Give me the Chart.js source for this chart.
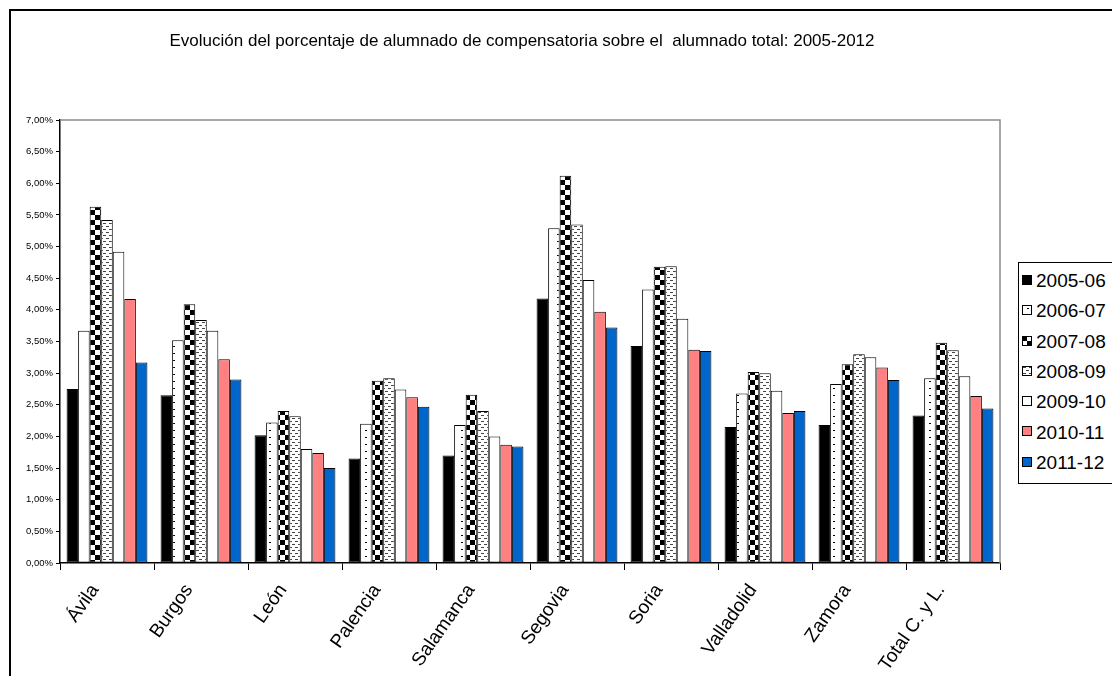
<!DOCTYPE html>
<html>
<head>
<meta charset="utf-8">
<script src="https://cdn.jsdelivr.net/npm/chart.js@4"></script>
<style>
  body { margin: 0; background: #fff; overflow: hidden; font-family: Arial, "Liberation Sans", sans-serif; }
  #wrap { position: relative; width: 1112px; height: 676px; overflow: hidden; }
  #frame { position: absolute; left: 9px; top: 9px; width: 1200px; height: 800px; border: 2px solid #000; }
  #chartBox { position: absolute; left: 0; top: 0; width: 1040px; height: 676px; }
  #legend { position: absolute; left: 1018px; top: 262px; width: 120px; height: 220px; border: 1px solid #000; background: #fff; }
  .item { position: absolute; left: 3px; height: 22px; line-height: 22px; font-size: 19px; color: #000; white-space: nowrap; }
  .item canvas { vertical-align: middle; margin-right: 4px; position: relative; top: -2px; }
</style>
</head>
<body>
<div id="wrap">
  <div id="frame"></div>
  <div id="chartBox"><canvas id="myBarChart" width="1040" height="676"></canvas></div>
  <div id="legend"></div>
</div>
<script>
const categories = ['Ávila', 'Burgos', 'León', 'Palencia', 'Salamanca', 'Segovia', 'Soria', 'Valladolid', 'Zamora', 'Total C. y L.'];
const seriesLabels = ['2005-06', '2006-07', '2007-08', '2008-09', '2009-10', '2010-11', '2011-12'];

// percentages
const s0506 = [2.75, 2.65, 2.02, 1.65, 1.70, 4.18, 3.43, 2.15, 2.18, 2.33];
const s0607 = [3.67, 3.52, 2.22, 2.20, 2.18, 5.29, 4.32, 2.68, 2.83, 2.92];
const s0708 = [5.63, 4.09, 2.40, 2.88, 2.66, 6.12, 4.68, 3.02, 3.14, 3.48];
const s0809 = [5.42, 3.84, 2.32, 2.92, 2.40, 5.35, 4.69, 3.00, 3.30, 3.36];
const s0910 = [4.92, 3.67, 1.80, 2.74, 2.00, 4.47, 3.86, 2.72, 3.25, 2.95];
const s1011 = [4.17, 3.22, 1.74, 2.62, 1.87, 3.97, 3.37, 2.37, 3.09, 2.64];
const s1112 = [3.17, 2.90, 1.50, 2.47, 1.84, 3.72, 3.35, 2.40, 2.89, 2.44];
const seriesValues = [s0506, s0607, s0708, s0809, s0910, s1011, s1112];

const yMin = 0;
const yMax = 7;
const yStep = 0.5;

const titleText = 'Evolución del porcentaje de alumnado de compensatoria sobre el  alumnado total: 2005-2012';

const ctx = document.getElementById('myBarChart').getContext('2d');

// small tiles for the hatched fills
function tile(w, h, draw) {
     const c = document.createElement('canvas');
     c.width = w; c.height = h;
     const g = c.getContext('2d');
     g.fillStyle = '#fff';
     g.fillRect(0, 0, w, h);
     g.fillStyle = '#000';
     draw(g);
     return c;
}
const tiles = [
     null,
     tile(12, 7, g => { g.fillRect(5, 3, 2, 1); }), // sparse dots
     tile(10, 10, g => { g.fillRect(0, 0, 5, 5); g.fillRect(5, 5, 5, 5); }), // checker
     tile(6, 6, g => { g.fillStyle = '#444'; g.fillRect(1, 1, 3, 1); g.fillRect(4, 4, 2, 1); g.fillRect(0, 4, 1, 1); }), // dashes
     null, null, null
];
const plainColors = ['#000000', null, null, null, '#ffffff', '#ff8080', '#0066cc'];
const fills = tiles.map((t, i) => t ? ctx.createPattern(t, 'repeat') : plainColors[i]);

// gray top/right edge of the plot area + title (title is off-centre in the original)
const plotFrame = {
     id: 'plotFrame',
     beforeDatasetsDraw(chart) {
          const a = chart.chartArea;
          const c = chart.ctx;
          c.save();
          c.strokeStyle = '#8c8c8c';
          c.lineWidth = 1.5;
          c.beginPath();
          c.moveTo(a.left, a.top);
          c.lineTo(a.right, a.top);
          c.lineTo(a.right, a.bottom);
          c.stroke();
          c.fillStyle = '#000';
          c.font = '17px Arial, "Liberation Sans"';
          c.textAlign = 'center';
          c.textBaseline = 'middle';
          c.fillText(titleText, 522, 41);
          c.restore();
     }
};

const myBarChart = new Chart(ctx, {
     type: 'bar',
     data: {
          labels: categories,
          datasets: seriesLabels.map((lab, i) => ({
               label: lab,
               data: seriesValues[i],
               backgroundColor: fills[i],
               borderColor: '#000',
               borderWidth: 1,
               borderSkipped: false,
               categoryPercentage: 0.86,
               barPercentage: 1.0
          }))
     },
     options: {
          responsive: false,
          animation: false,
          layout: { padding: { left: 0, right: 40, top: 120, bottom: 0 } },
          plugins: {
               legend: { display: false },
               tooltip: { enabled: false },
               title: { display: false }
          },
          scales: {
               x: {
                    grid: { display: true, drawOnChartArea: false, drawTicks: true, tickLength: 7, color: '#000', offset: true },
                    border: { display: true, color: '#000', width: 1.5 },
                    ticks: {
                         color: '#000',
                         font: { family: 'Arial, "Liberation Sans"', size: 19 },
                         maxRotation: 55,
                         minRotation: 55,
                         padding: 10,
                         labelOffset: -12
                    },
                    afterFit(scale) { scale.height = 113; }
               },
               y: {
                    min: yMin,
                    max: yMax,
                    grid: { display: true, drawOnChartArea: false, drawTicks: true, tickLength: 4, color: '#000' },
                    border: { display: true, color: '#000', width: 1.5 },
                    ticks: {
                         stepSize: yStep,
                         color: '#000',
                         font: { family: 'Arial, "Liberation Sans"', size: 9.5 },
                         padding: 3,
                         callback: v => v.toFixed(2).replace('.', ',') + '%'
                    },
                    afterFit(scale) { scale.width = 60; }
               }
          }
     },
     plugins: [plotFrame]
});

// legend as html, swatches use the same fills
const legend = document.getElementById('legend');
seriesLabels.forEach((lab, i) => {
     const div = document.createElement('div');
     div.className = 'item';
     div.style.top = (7 + i * 30.3) + 'px';
     const sw = document.createElement('canvas');
     sw.width = 10; sw.height = 10;
     const g = sw.getContext('2d');
     g.fillStyle = tiles[i] ? g.createPattern(tiles[i], 'repeat') : plainColors[i];
     g.fillRect(0, 0, 10, 10);
     g.strokeStyle = '#000';
     g.lineWidth = 1;
     g.strokeRect(0.5, 0.5, 9, 9);
     div.appendChild(sw);
     div.appendChild(document.createTextNode(lab));
     legend.appendChild(div);
});
</script>
</body>
</html>
